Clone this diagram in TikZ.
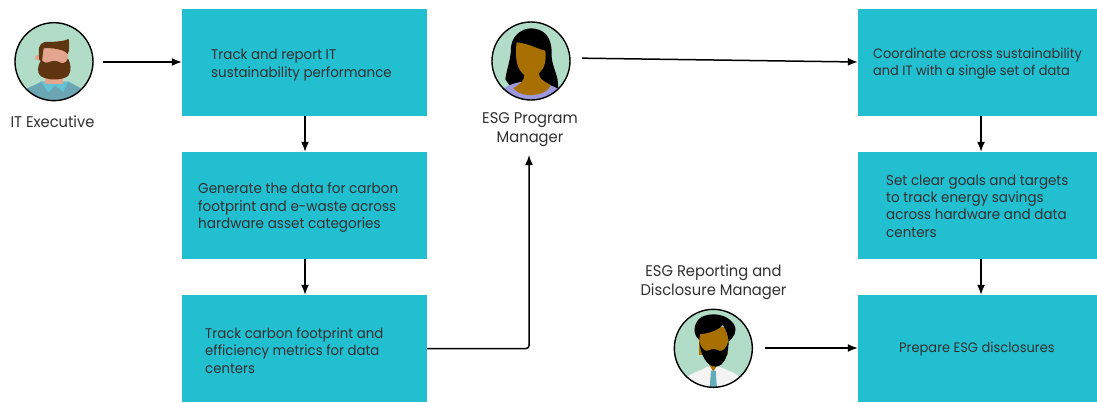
\documentclass[tikz,border=0pt]{standalone}
\usepackage{fontspec}
\setmainfont[FakeStretch=0.95]{Poppins}
\usetikzlibrary{arrows.meta}
\definecolor{tealbox}{HTML}{22BFD0}
\definecolor{mint}{HTML}{B0DCC8}
\definecolor{ink}{HTML}{303030}
\definecolor{beardb}{HTML}{5E3510}
\definecolor{skinp}{HTML}{E3A58E}
\definecolor{shirtb}{HTML}{6CA5B3}
\definecolor{collarb}{HTML}{62C3D7}
\definecolor{skinb}{HTML}{A87000}
\definecolor{lilac}{HTML}{9D97DC}
\definecolor{whitesh}{HTML}{F4F4F4}
\definecolor{tieb}{HTML}{64ACB8}
\tikzset{
  x=1pt,y=-1pt,
  boxn/.style={fill=tealbox,minimum height=107pt,minimum width=#1pt,inner sep=0pt},
  boxt/.style={anchor=west,inner sep=0pt,align=left,text=ink,font=\fontsize{#1}{17.3}\selectfont},
  person/.style={circle,minimum size=78pt,inner sep=0pt,draw=none},
  ring/.style={draw=black,line width=1.4pt},
  lab/.style={font=\fontsize{15.5}{19}\selectfont,text=ink,align=center,inner sep=0pt},
  conn/.style={draw=black,line width=1.5pt,-{Latex[length=10pt,width=8pt]}},
}
\begin{document}
\begin{tikzpicture}
\useasboundingbox (0,0) rectangle (1097,402);
% boxes
\node[boxn=245] (a1) at (304.5,62.5) {};
\node[boxn=245] (a2) at (304.5,205.5) {};
\node[boxn=245] (a3) at (304.5,348.5) {};
\node[boxn=239] (b1) at (977.5,62.5) {};
\node[boxn=239] (b2) at (977.5,205.5) {};
\node[boxn=239] (b3) at (977.5,348.5) {};
% box texts
\node[boxt=14.1] (ta1) at (211,65) {Track and report IT\\sustainability performance};
\node[boxt=14.3] (ta2) at (198,207.5) {Generate the data for carbon\\footprint and e-waste across\\hardware asset categories};
\node[boxt=14] (ta3) at (205,350.5) {Track carbon footprint and\\efficiency metrics for data\\centers};
\node[boxt=13.6] (tb1) at (873,63.5) {Coordinate across sustainability\\and IT with a single set of data};
\node[boxt=14.2] (tb2) at (886,206) {Set clear goals and targets\\to track energy savings\\across hardware and data\\centers};
\node[boxt=13.7] (tb3) at (899,349.5) {Prepare ESG disclosures};
% people
\node[person] (p1) at (54,62) {};
\node[person] (p2) at (531,61) {};
\node[person] (p3) at (713,348) {};
% person 1
\begin{scope}[shift={(0,10)},x=0.3333pt,y=-0.3333pt]
\begin{scope}
\clip (162,155) circle (117);
\fill[mint] (162,155) circle (117);
\fill[shirtb] (80,236) -- (125,215) -- (205,215) -- (245,236) -- (245,290) -- (80,290) -- cycle;
\fill[collarb] (122,214) -- (162,222) -- (205,214) -- (190,246) -- (165,226) -- (145,248) -- cycle;
\fill[skinp] (135,190) rectangle (190,222);
\fill[skinp] (113,143) circle (8);
\fill[skinp] (120,105) rectangle (204,175);
\fill[beardb] (118,150) .. controls (114,115) and (116,100) .. (135,96) .. controls (165,96) and (190,94) .. (206,87) .. controls (209,105) and (208,125) .. (203,132) .. controls (195,118) and (150,112) .. (131,115) .. controls (128,130) and (128,140) .. (126,155) -- cycle;
\fill[beardb] (124,150) .. controls (112,165) and (110,190) .. (122,198) .. controls (140,212) and (190,212) .. (205,197) .. controls (216,182) and (212,160) .. (204,145) .. controls (195,165) and (185,160) .. (175,155) .. controls (165,150) and (150,155) .. (145,157) .. controls (135,160) and (130,155) .. (124,150) -- cycle;
\end{scope}
\draw[ring] (162,155) circle (117);
\end{scope}
% person 2
\begin{scope}[shift={(470,10)},x=0.3333pt,y=-0.3333pt]
\begin{scope}
\clip (183,153) circle (117);
\fill[mint] (183,153) circle (117);
\fill[black] (106,208) .. controls (110,175) and (123,150) .. (123,110) .. controls (128,70) and (165,50) .. (195,56) .. controls (237,63) and (247,100) .. (245,140) .. controls (247,175) and (267,195) .. (264,235) -- (125,235) -- cycle;
\fill[lilac] (95,240) .. controls (120,220) and (150,215) .. (183,212) .. controls (215,215) and (245,225) .. (270,240) -- (270,280) -- (95,280) -- cycle;
\fill[skinb] (140,97) .. controls (175,100) and (205,118) .. (226,122) .. controls (230,150) and (224,175) .. (207,190) .. controls (207,205) and (217,212) .. (242,225) .. controls (232,258) and (158,268) .. (130,235) .. controls (150,222) and (163,212) .. (163,195) .. controls (143,180) and (133,150) .. (140,97) -- cycle;
\end{scope}
\draw[ring] (183,153) circle (117);
\end{scope}
% person 3
\begin{scope}[shift={(640,260)},x=0.3333pt,y=-0.3333pt]
\begin{scope}
\clip (220,265) circle (117);
\fill[mint] (220,265) circle (117);
\fill[whitesh] (135,355) .. controls (160,335) and (190,330) .. (200,320) -- (240,320) .. controls (255,330) and (285,335) .. (305,355) -- (305,400) -- (135,400) -- cycle;
\fill[skinb] (193,290) -- (247,290) -- (220,335) -- cycle;
\fill[tieb] (213,332) -- (227,332) -- (231,385) -- (209,385) -- cycle;
\fill[skinb] (178,200) rectangle (264,285);
\fill[black] (178,240) .. controls (158,225) and (158,190) .. (183,172) .. controls (215,155) and (262,162) .. (282,193) .. controls (294,215) and (280,232) .. (266,245) .. controls (264,225) and (258,207) .. (248,195) .. controls (230,215) and (195,222) .. (180,222) -- cycle;
\fill[black] (178,245) .. controls (182,285) and (200,320) .. (228,320) .. controls (254,317) and (266,285) .. (266,240) .. controls (260,265) and (250,276) .. (237,272) .. controls (225,266) and (215,266) .. (205,272) .. controls (195,276) and (183,265) .. (178,245) -- cycle;
\end{scope}
\draw[ring] (220,265) circle (117);
\end{scope}
% labels
\node[lab] (l1) at (52.5,122) {IT Executive};
\node[lab] (l2) at (530,130) {ESG Program\\Manager};
\node[lab] (l3) at (713.5,282) {ESG Reporting and\\Disclosure Manager};
% connectors
\draw[conn,shorten <=10pt] (p1.east) -- (a1.west |- p1.east);
\draw[conn] ([xshift=0.5pt]a1.south) -- ([xshift=0.5pt]a2.north);
\draw[conn] ([xshift=0.5pt]a2.south) -- ([xshift=0.5pt]a3.north);
\coordinate (up) at (529,155);
\draw[conn,rounded corners=3pt] (a3.east) -| (up);
\draw[conn,shorten <=12pt] ([yshift=3pt]p2.east) -- ([yshift=0.5pt]b1.west);
\draw[conn] ([xshift=3.5pt]b1.south) -- ([xshift=3.5pt]b2.north);
\draw[conn] ([xshift=3.5pt]b2.south) -- ([xshift=3.5pt]b3.north);
\draw[conn,shorten <=13pt] (p3.east) -- (b3.west |- p3.east);
\end{tikzpicture}
\end{document}
